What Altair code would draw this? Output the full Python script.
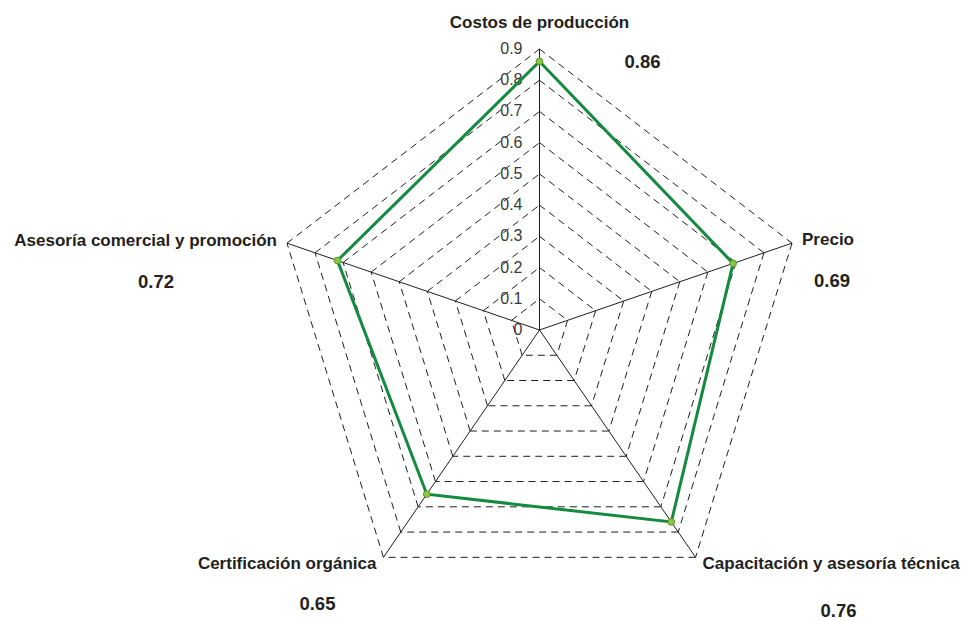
import math
import altair as alt
import pandas as pd

# ---- data ----
categories = ["Costos de producción", "Precio", "Capacitación y asesoría técnica",
              "Certificación orgánica", "Asesoría comercial y promoción"]
values = [0.86, 0.69, 0.76, 0.65, 0.72]
value_labels = ["0.86", "0.69", "0.76", "0.65", "0.72"]
levels = [0.1, 0.2, 0.3, 0.4, 0.5, 0.6, 0.7, 0.8, 0.9]
tick_values = [0, 0.1, 0.2, 0.3, 0.4, 0.5, 0.6, 0.7, 0.8, 0.9]
tick_labels = ["0", "0.1", "0.2", "0.3", "0.4", "0.5", "0.6", "0.7", "0.8", "0.9"]
r_max = 0.9

# ---- layout (pixel offsets of the labels from each outer vertex) ----
cat_layout = [  # (dx, dy, align)
    (0, -26, "center"),
    (10, -3, "left"),
    (7, 7, "left"),
    (-7, 7, "right"),
    (-10, -2, "right"),
]
val_layout = [  # (dx, dy)
    (103, 13),
    (40, 38),
    (143, 54),
    (-66, 47),
    (-131, 39),
]

n = len(categories)
angles = [math.radians(90 - 72 * i) for i in range(n)]


def pt(r, i):
    a = angles[i % n]
    return r * math.cos(a), r * math.sin(a)


XS = alt.Scale(domain=[-1.8288, 1.4559], nice=False, zero=False)
YS = alt.Scale(domain=[-0.9321, 1.0570], nice=False, zero=False)


def X(f="x"):
    return alt.X(f + ":Q", scale=XS, axis=None)


def Y(f="y"):
    return alt.Y(f + ":Q", scale=YS, axis=None)


# grid edges (each edge drawn from a vertex so dashes start at vertices)
grid_rows = []
for lv in levels:
    for i in range(n):
        x0, y0 = pt(lv, i)
        x1, y1 = pt(lv, i + 1)
        grid_rows.append({"x": x0, "y": y0, "x2": x1, "y2": y1, "lv": lv})
grid_df = pd.DataFrame(grid_rows)

spoke_df = pd.DataFrame([
    {"x": 0.0, "y": 0.0, "x2": pt(r_max, i)[0], "y2": pt(r_max, i)[1]} for i in range(n)
])

poly_rows = []
for k in range(n + 1):
    x, y = pt(values[k % n], k)
    poly_rows.append({"x": x, "y": y, "o": k})
poly_df = pd.DataFrame(poly_rows)
pts_df = poly_df.iloc[:n]

tick_df = pd.DataFrame({"x": [0.0] * len(tick_values), "y": tick_values, "t": tick_labels})

grid = alt.Chart(grid_df).mark_rule(
    color="#1e1e1e", strokeWidth=1, strokeDash=[7, 5]
).encode(x=X(), y=Y(), x2="x2:Q", y2="y2:Q")

spokes = alt.Chart(spoke_df).mark_rule(color="#1e1e1e", strokeWidth=1).encode(
    x=X(), y=Y(), x2="x2:Q", y2="y2:Q")

ticks = alt.Chart(tick_df).mark_text(
    align="right", baseline="middle", dx=-17, fontSize=16,
    font="Liberation Sans", color="#3a3a3a"
).encode(x=X(), y=Y(), text="t:N")

line = alt.Chart(poly_df).mark_line(color="#138a3d", strokeWidth=3).encode(
    x=X(), y=Y(), order="o:Q")

points = alt.Chart(pts_df).mark_point(
    shape="circle", filled=True, size=45, color="#8cc63f",
    stroke="#4f9a2a", strokeWidth=1, opacity=1
).encode(x=X(), y=Y())

layers = [grid, spokes, ticks, line, points]

for i in range(n):
    vx, vy = pt(r_max, i)
    d = pd.DataFrame({"x": [vx], "y": [vy], "c": [categories[i]], "v": [value_labels[i]]})
    cdx, cdy, cal = cat_layout[i]
    vdx, vdy = val_layout[i]
    layers.append(alt.Chart(d).mark_text(
        align=cal, baseline="middle", dx=cdx, dy=cdy, fontSize=17,
        fontWeight="bold", font="Liberation Sans", color="#231f20"
    ).encode(x=X(), y=Y(), text="c:N"))
    layers.append(alt.Chart(d).mark_text(
        align="center", baseline="middle", dx=vdx, dy=vdy, fontSize=18.5,
        fontWeight="bold", font="Liberation Sans", color="#231f20"
    ).encode(x=X(), y=Y(), text="v:N"))

chart = alt.layer(*layers).properties(
    width=969, height=621, autosize=alt.AutoSizeParams(type="none"),
    padding=0, background="white"
).configure_view(stroke=None)

chart.save("out.html", embed_options={"renderer": "svg", "actions": False})
